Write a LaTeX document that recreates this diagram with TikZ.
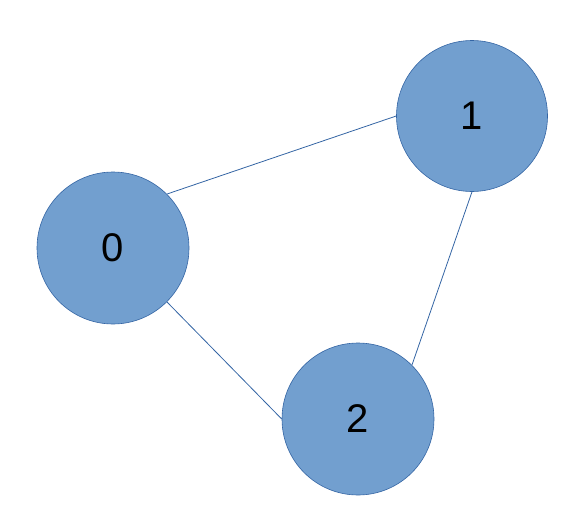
\documentclass[tikz,border=0pt]{standalone}
\usepackage{fontspec}
\setmainfont{Liberation Sans}
\definecolor{nodefill}{HTML}{729FCF}
\definecolor{nodeline}{HTML}{3465A4}
\begin{document}
\begin{tikzpicture}[x=1pt,y=-1pt,
  vertex/.style={circle,draw=nodeline,fill=nodefill,line width=0.6pt,minimum size=152pt,inner sep=0pt,font=\fontsize{40}{48}\selectfont},
  link/.style={draw=nodeline,line width=0.8pt}]
\useasboundingbox (0,0) rectangle (578,522);
\node[vertex] (n0) at (113,248) {0};
\node[vertex,minimum size=151pt] (n1) at (472,116) {1};
\node[vertex] (n2) at (358,419) {2};
\draw[link] (n0.north east) -- (n1.west);
\draw[link] (n1.south) -- (n2.north east);
\draw[link] (n0.south east) -- (n2.west);
\end{tikzpicture}
\end{document}
